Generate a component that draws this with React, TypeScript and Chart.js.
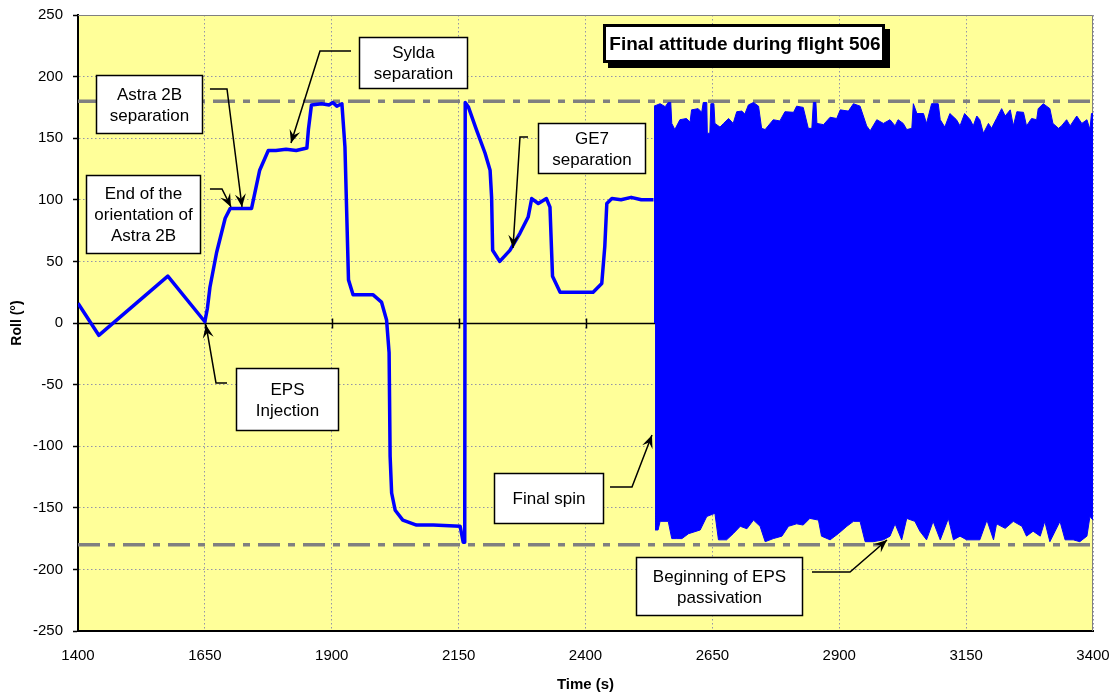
import React, { useEffect, useRef } from "react";
import { Chart, registerables } from "chart.js";

Chart.register(...registerables);

// ---- Data ----
const xTickValues = [1400, 1650, 1900, 2150, 2400, 2650, 2900, 3150, 3400];
const yTickValues = [-250, -200, -150, -100, -50, 0, 50, 100, 150, 200, 250];

const mainTime = [
  1400, 1441, 1577, 1650, 1655, 1660, 1673, 1690, 1700, 1742, 1758, 1775, 1790, 1810, 1830, 1851,
  1854, 1860, 1880, 1895, 1902, 1910, 1920, 1926, 1933, 1942, 1981, 1998, 2008, 2013, 2015, 2018,
  2025, 2040, 2067, 2100, 2153, 2159, 2162, 2163, 2169, 2185, 2202, 2212, 2215, 2217, 2231, 2251,
  2271, 2287, 2294, 2307, 2323, 2330, 2335, 2350, 2415, 2432, 2438, 2442, 2452, 2470, 2490, 2510, 2534,
];
const mainRoll = [
  16, -10, 38, 1, 12, 29, 57, 85, 93, 93, 124, 140, 140, 141, 140, 142,
  157, 177, 178, 177, 179, 176, 178, 143, 35, 23, 23, 17, 2.5, -24, -108, -138,
  -152, -160, -164, -164, -165, -178, -178, 179, 175.6, 157, 138, 124, 102, 59, 50, 59,
  73, 86, 101, 97, 101, 94, 38, 25, 25, 32, 62, 97, 101, 100, 102, 100, 100,
];

const spinUpperTime = [
  2535, 2547, 2557, 2563, 2568, 2570, 2576, 2586, 2599, 2606, 2609, 2622, 2629, 2632, 2639, 2640,
  2645, 2647, 2653, 2655, 2665, 2672, 2682, 2691, 2698, 2708, 2714, 2721, 2731, 2741, 2747, 2754,
  2770, 2783, 2793, 2810, 2816, 2829, 2839, 2846, 2849, 2854, 2856, 2869, 2882, 2895, 2902, 2918,
  2928, 2941, 2954, 2961, 2974, 2987, 3000, 3010, 3016, 3026, 3033, 3043, 3046, 3053, 3066, 3072,
  3082, 3095, 3099, 3108, 3118, 3131, 3138, 3147, 3158, 3164, 3171, 3177, 3184, 3194, 3200, 3210,
  3220, 3227, 3237, 3243, 3250, 3263, 3269, 3279, 3289, 3292, 3302, 3315, 3321, 3332, 3338, 3348,
  3355, 3368, 3378, 3388, 3394, 3397, 3400,
];
const spinUpperRoll = [
  176, 178, 175.6, 179, 179, 162, 157, 165, 166, 163, 173, 174, 171, 179, 179, 154,
  154, 178, 178, 162, 159, 162, 166, 162, 171.5, 172, 169.6, 177, 179, 176, 158, 157,
  165, 164, 171.5, 171, 176, 175, 158, 158, 179, 179, 162, 161, 167, 166, 173, 172,
  178, 176, 160, 156, 165, 162, 165, 160, 165, 162, 157, 158, 178, 170, 170, 162,
  178, 178, 165, 159, 170, 165, 160, 170, 165, 160, 168, 165, 154, 162, 158, 166,
  174, 168, 173, 160, 171.5, 171, 160, 166, 165, 174, 178, 174, 162, 158, 160, 165,
  160, 168, 162, 165, 157, 170, 170,
];

const spinLowerTime = [
  2537, 2543, 2547, 2563, 2570, 2580, 2590, 2603, 2626, 2639, 2655, 2662, 2678, 2691, 2705, 2718,
  2731, 2744, 2754, 2770, 2787, 2800, 2816, 2829, 2842, 2859, 2865, 2882, 2898, 2915, 2928, 2941,
  2951, 2967, 2987, 3000, 3010, 3023, 3033, 3049, 3059, 3072, 3085, 3099, 3115, 3125, 3138, 3151,
  3177, 3191, 3204, 3210, 3227, 3243, 3260, 3269, 3282, 3296, 3305, 3315, 3335, 3345, 3361, 3374,
  3388, 3394, 3400,
];
const spinLowerRoll = [
  -168, -168, -161, -161, -175, -175, -175, -171, -168, -157, -154.5, -176, -176, -171, -165, -167,
  -160, -165, -177.5, -175, -173, -165, -163, -164, -158.6, -160, -173, -176, -171, -165, -161, -161,
  -177.5, -177.5, -176, -173, -163, -176, -158.6, -161, -169, -176, -161, -176, -158.6, -176, -173, -176,
  -176, -160, -176, -163, -166.7, -161, -165, -173, -169, -173, -161, -177.5, -161, -176, -176, -177.5,
  -173, -157, -160,
];

const limitRolls = [180, -180];

// ---- Annotations (data coordinates) ----
const notes = [
  { lines: ["Sylda", "separation"], box: [1953.7, 232.1, 2166.5, 190.7], arrow: [[1938, 220.8], [1876.8, 220.8], [1819.7, 146.1]] },
  { lines: ["Astra 2B", "separation"], box: [1435.5, 201.3, 1644.3, 154.2], arrow: [[1660, 190], [1693.6, 190], [1723.2, 94.2]] },
  { lines: ["End of the", "orientation of", "Astra 2B"], box: [1415.8, 120.1, 1640.4, 56.8], arrow: [[1660, 108.8], [1683.7, 108.8], [1701.5, 94.2]] },
  { lines: ["EPS", "Injection"], box: [1711.3, -36.5, 1912.3, -86.9], arrow: [[1693.6, -48.7], [1671.9, -48.7], [1652.2, -1.6]] },
  { lines: ["GE7", "separation"], box: [2306.4, 162.3, 2517.2, 121.8], arrow: [[2286.7, 151], [2270.9, 151], [2257.1, 60.9]] },
  { lines: ["Final spin"], box: [2219.7, -121.8, 2434.5, -162.3], arrow: [[2448.3, -133.1], [2491.6, -133.1], [2531, -90.9]] },
  { lines: ["Beginning of EPS", "passivation"], box: [2499.5, -189.9, 2826.6, -237.0], arrow: [[2846.3, -202.1], [2921.2, -202.1], [2994.1, -176.1]] },
];
const titleNote = { text: "Final attitude during flight 506", box: [2434.5, 242.7, 2990, 211] };

const FONT = "'Liberation Sans', Arial, Helvetica, sans-serif";

function drawArrowHead(ctx: CanvasRenderingContext2D, x0: number, y0: number, x1: number, y1: number) {
  const ang = Math.atan2(y1 - y0, x1 - x0);
  const len = 13;
  const half = 5.5;
  const notch = 8;
  const ca = Math.cos(ang);
  const sa = Math.sin(ang);
  const bx = x1 - len * ca;
  const by = y1 - len * sa;
  const nx = x1 - notch * ca;
  const ny = y1 - notch * sa;
  ctx.beginPath();
  ctx.moveTo(x1, y1);
  ctx.lineTo(bx - half * sa, by + half * ca);
  ctx.lineTo(nx, ny);
  ctx.lineTo(bx + half * sa, by - half * ca);
  ctx.closePath();
  ctx.fill();
}

const decorPlugin = {
  id: "decor",
  beforeDraw(chart: any) {
    const { ctx, chartArea: a } = chart;
    ctx.save();
    ctx.fillStyle = "#FFFF99";
    ctx.fillRect(a.left, a.top, a.right - a.left, a.bottom - a.top);
    ctx.restore();
  },
  beforeDatasetsDraw(chart: any) {
    const { ctx, chartArea: a, scales } = chart;
    const xs = scales.x;
    const ys = scales.y;
    ctx.save();
    ctx.strokeStyle = "#808080";
    ctx.lineWidth = 1;
    ctx.beginPath();
    ctx.moveTo(a.left, a.top + 0.5);
    ctx.lineTo(a.right - 0.5, a.top + 0.5);
    ctx.lineTo(a.right - 0.5, a.bottom);
    ctx.stroke();
    const y0 = Math.round(ys.getPixelForValue(0)) + 0.5;
    ctx.strokeStyle = "#000";
    ctx.lineWidth = 1.5;
    ctx.beginPath();
    ctx.moveTo(a.left, y0);
    ctx.lineTo(a.right, y0);
    ctx.stroke();
    for (let i = 1; i < xTickValues.length - 1; i++) {
      const px = Math.round(xs.getPixelForValue(xTickValues[i])) + 0.5;
      ctx.beginPath();
      ctx.moveTo(px, y0 - 5);
      ctx.lineTo(px, y0 + 5);
      ctx.stroke();
    }
    ctx.restore();
  },
  afterDatasetsDraw(chart: any) {
    const { ctx, scales } = chart;
    const xs = scales.x;
    const ys = scales.y;
    const X = (v: number) => xs.getPixelForValue(v);
    const Y = (v: number) => ys.getPixelForValue(v);
    ctx.save();
    for (const n of notes) {
      const pts = n.arrow.map(([t, r]) => [X(t), Y(r)]);
      ctx.strokeStyle = "#000";
      ctx.fillStyle = "#000";
      ctx.lineWidth = 1.5;
      ctx.beginPath();
      ctx.moveTo(pts[0][0], pts[0][1]);
      for (let i = 1; i < pts.length; i++) ctx.lineTo(pts[i][0], pts[i][1]);
      ctx.stroke();
      const p0 = pts[pts.length - 2];
      const p1 = pts[pts.length - 1];
      drawArrowHead(ctx, p0[0], p0[1], p1[0], p1[1]);
      const x1 = Math.round(X(n.box[0])) + 0.5;
      const y1 = Math.round(Y(n.box[1])) + 0.5;
      const x2 = Math.round(X(n.box[2])) + 0.5;
      const y2 = Math.round(Y(n.box[3])) + 0.5;
      ctx.fillStyle = "#FFFFFF";
      ctx.fillRect(x1, y1, x2 - x1, y2 - y1);
      ctx.strokeStyle = "#000";
      ctx.lineWidth = 1.5;
      ctx.strokeRect(x1, y1, x2 - x1, y2 - y1);
      ctx.fillStyle = "#000";
      ctx.font = `17px ${FONT}`;
      ctx.textAlign = "center";
      ctx.textBaseline = "middle";
      const cx = (x1 + x2) / 2;
      const cy = (y1 + y2) / 2 + 1;
      const lh = 21;
      n.lines.forEach((s, i) => {
        ctx.fillText(s, cx, cy + (i - (n.lines.length - 1) / 2) * lh);
      });
    }
    const tx1 = Math.round(X(titleNote.box[0]));
    const ty1 = Math.round(Y(titleNote.box[1]));
    const tx2 = Math.round(X(titleNote.box[2]));
    const ty2 = Math.round(Y(titleNote.box[3]));
    ctx.fillStyle = "#000";
    ctx.fillRect(tx1 + 5, ty1 + 5, tx2 - tx1, ty2 - ty1);
    ctx.fillStyle = "#FFF";
    ctx.fillRect(tx1, ty1, tx2 - tx1, ty2 - ty1);
    ctx.strokeStyle = "#000";
    ctx.lineWidth = 3;
    ctx.strokeRect(tx1 + 1.5, ty1 + 1.5, tx2 - tx1 - 3, ty2 - ty1 - 3);
    ctx.fillStyle = "#000";
    ctx.font = `bold 19px ${FONT}`;
    ctx.textAlign = "center";
    ctx.textBaseline = "middle";
    ctx.fillText(titleNote.text, (tx1 + tx2) / 2 + 1, (ty1 + ty2) / 2 + 1);
    ctx.restore();
  },
};

export default function App() {
  const ref = useRef<HTMLCanvasElement | null>(null);
  useEffect(() => {
    if (!ref.current) return;
    Chart.defaults.font.family = FONT;
    Chart.defaults.color = "#000";
    const line = (ts: number[], vs: number[]) => ts.map((t, i) => ({ x: t, y: vs[i] }));
    const limitDatasets = limitRolls.map((r) => ({
      label: `limit ${r}`,
      data: [
        { x: xTickValues[0], y: r },
        { x: xTickValues[xTickValues.length - 1], y: r },
      ],
      borderColor: "#808080",
      borderWidth: 3.5,
      borderDash: [22, 8, 7, 8],
      pointRadius: 0,
      fill: false,
      order: 5,
    }));
    const zeroPad = (s: any) => {
      s.paddingLeft = 0;
      s.paddingRight = 0;
      s.paddingTop = 0;
      s.paddingBottom = 0;
    };
    const chart = new Chart(ref.current, {
      type: "line",
      data: {
        datasets: [
          {
            label: "Roll",
            data: line(mainTime, mainRoll),
            borderColor: "#0000FF",
            borderWidth: 3.5,
            pointRadius: 0,
            fill: false,
            tension: 0,
            borderJoinStyle: "round",
            order: 0,
          },
          {
            label: "Spin upper",
            data: line(spinUpperTime, spinUpperRoll),
            borderColor: "#0000FF",
            backgroundColor: "#0000FF",
            borderWidth: 1,
            pointRadius: 0,
            fill: "origin",
            tension: 0,
            order: 1,
          },
          {
            label: "Spin lower",
            data: line(spinLowerTime, spinLowerRoll),
            borderColor: "#0000FF",
            backgroundColor: "#0000FF",
            borderWidth: 1,
            pointRadius: 0,
            fill: "origin",
            tension: 0,
            order: 2,
          },
          ...limitDatasets,
        ] as any,
      },
      options: {
        animation: false,
        responsive: true,
        maintainAspectRatio: false,
        layout: { padding: { top: 15, right: 23, left: 0, bottom: 0 } },
        plugins: { legend: { display: false }, tooltip: { enabled: false } },
        scales: {
          x: {
            type: "linear",
            min: xTickValues[0],
            max: xTickValues[xTickValues.length - 1],
            afterBuildTicks: (s: any) => {
              s.ticks = xTickValues.map((v) => ({ value: v }));
            },
            afterFit: (s: any) => {
              s.height = 64;
              zeroPad(s);
            },
            grid: { color: "#9494a8", lineWidth: 1, drawTicks: false },
            border: { display: true, color: "#000", width: 2, dash: [1.5, 2.5] },
            ticks: {
              font: { size: 15 },
              color: "#000",
              padding: 16,
              maxRotation: 0,
              callback: (v: any) => String(v),
            },
            title: {
              display: true,
              text: "Time (s)",
              font: { size: 15, weight: "bold" },
              color: "#000",
              padding: { top: 0, bottom: 1 },
            },
          },
          y: {
            type: "linear",
            min: yTickValues[0],
            max: yTickValues[yTickValues.length - 1],
            afterBuildTicks: (s: any) => {
              s.ticks = yTickValues.map((v) => ({ value: v }));
            },
            afterFit: (s: any) => {
              s.width = 78;
              zeroPad(s);
            },
            grid: {
              color: "#9494a8",
              lineWidth: 1,
              drawTicks: true,
              tickLength: 5,
              tickColor: "#000",
              tickWidth: 1.5,
              tickBorderDash: [],
            } as any,
            border: { display: true, color: "#000", width: 2, dash: [1.5, 2.5] },
            ticks: {
              font: { size: 15 },
              color: "#000",
              padding: 10,
              callback: (v: any) => String(v),
            },
            title: {
              display: true,
              text: "Roll (°)",
              font: { size: 14, weight: "bold" },
              color: "#000",
              padding: { top: 9, bottom: 0 },
            },
          },
        },
      } as any,
      plugins: [decorPlugin],
    });
    return () => chart.destroy();
  }, []);
  return (
    <div style={{ position: "absolute", left: 0, top: 0, width: 1116, height: 695 }}>
      <canvas ref={ref} />
    </div>
  );
}
